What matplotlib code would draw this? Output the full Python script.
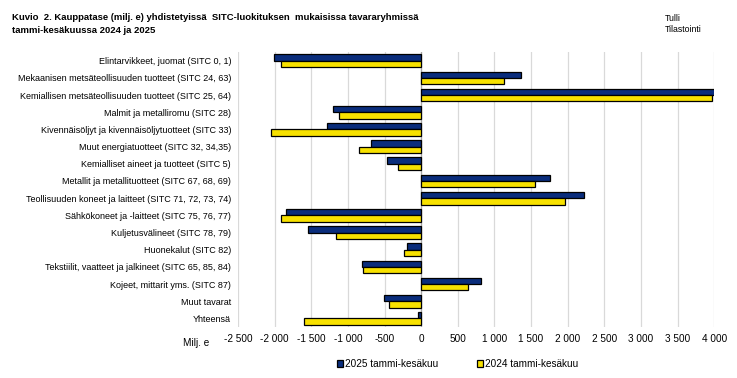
import matplotlib
matplotlib.use("Agg")
import matplotlib.pyplot as plt
import numpy as np
from matplotlib.ticker import FuncFormatter

luokat = [
    "Elintarvikkeet, juomat (SITC 0, 1)",
    "Mekaanisen metsäteollisuuden tuotteet (SITC 24, 63)",
    "Kemiallisen metsäteollisuuden tuotteet (SITC 25, 64)",
    "Malmit ja metalliromu (SITC 28)",
    "Kivennäisöljyt ja kivennäisöljytuotteet (SITC 33)",
    "Muut energiatuotteet (SITC 32, 34,35)",
    "Kemialliset aineet ja tuotteet (SITC 5)",
    "Metallit ja metallituotteet (SITC 67, 68, 69)",
    "Teollisuuden koneet ja laitteet (SITC 71, 72, 73, 74)",
    "Sähkökoneet ja -laitteet (SITC 75, 76, 77)",
    "Kuljetusvälineet (SITC 78, 79)",
    "Huonekalut (SITC 82)",
    "Tekstiilit, vaatteet ja jalkineet (SITC 65, 85, 84)",
    "Kojeet, mittarit yms. (SITC 87)",
    "Muut tavarat",
    "Yhteensä",
]
arvot_2025 = [-2015, 1360, 4005, -1210, -1292, -682, -460, 1755, 2219, -1846, -1551, -200, -814, 814, -514, -37]
arvot_2024 = [-1919, 1128, 3965, -1128, -2055, -855, -310, 1550, 1960, -1919, -1169, -228, -800, 637, -437, -1605]
x_tikit = [-2500, -2000, -1500, -1000, -500, 0, 500, 1000, 1500, 2000, 2500, 3000, 3500, 4000]

SININEN = "#0a2d7c"
KELTAINEN = "#f7e100"
plt.rcParams["font.family"] = ["Liberation Sans", "DejaVu Sans"]

fig = plt.figure(figsize=(7.37, 3.78), dpi=100)
ax = fig.add_axes([0.323, 0.135, 0.646, 0.727])

y = np.arange(len(luokat))
h = 0.37
ax.barh(y - h / 2, arvot_2025, height=h, color=SININEN, edgecolor="black", linewidth=0.9,
        label="2025 tammi-kesäkuu", zorder=3)
ax.barh(y + h / 2, arvot_2024, height=h, color=KELTAINEN, edgecolor="black", linewidth=0.9,
        label="2024 tammi-kesäkuu", zorder=3)

ax.set_xlim(-2500, 4000)
ax.set_ylim(len(luokat) - 0.5, -0.5)
ax.set_xticks(x_tikit)
ax.xaxis.set_major_formatter(FuncFormatter(lambda v, p: f"{int(v):,}".replace(",", " ")))
ax.set_yticks(y)
ax.set_yticklabels(luokat, fontsize=6.5)
ax.tick_params(axis="both", length=0, pad=5)
ax.tick_params(axis="x", labelsize=7.2, pad=5)

ax.grid(axis="x", color="#d9d9d9", linewidth=0.9, zorder=0)
ax.axvline(0, color="#a6a6a6", linewidth=0.9, zorder=2)
for s in ax.spines.values():
    s.set_visible(False)

ax.text(-0.06, -0.04, "Milj. e", transform=ax.transAxes, ha="right", va="top", fontsize=7.2)

fig.text(0.016, 0.965, "Kuvio  2. Kauppatase (milj. e) yhdistetyissä  SITC-luokituksen  mukaisissa tavararyhmissä\n"
         "tammi-kesäkuussa 2024 ja 2025", ha="left", va="top", fontsize=6.8, fontweight="bold",
         linespacing=1.55)
fig.text(0.902, 0.962, "Tulli\nTilastointi", ha="left", va="top", fontsize=6.3, linespacing=1.2)

fig.legend(loc="lower center", bbox_to_anchor=(0.621, 0.0), ncol=2, frameon=False,
           fontsize=7.2, handlelength=0.6, handleheight=0.6, handletextpad=0.2,
           columnspacing=3.8)

fig.savefig("out.png", dpi=100)
